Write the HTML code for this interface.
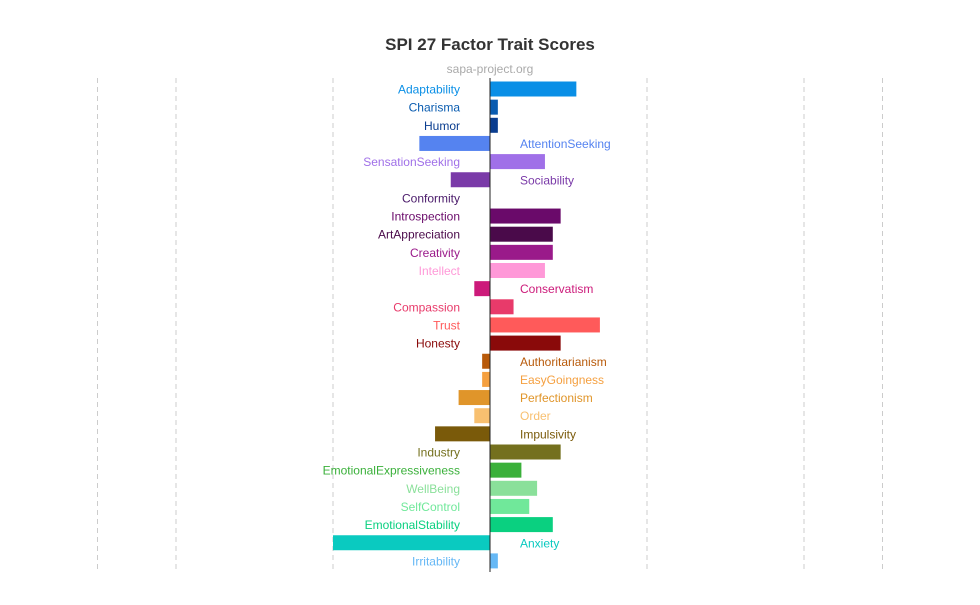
<!DOCTYPE html>
<html><head><meta charset="utf-8"><style>
body{margin:0;background:#fff;width:980px;height:600px;overflow:hidden}
svg text{font-family:"Liberation Sans",sans-serif}
</style></head><body>
<svg id="c" width="980" height="600">
<text x="490" y="50" text-anchor="middle" font-size="17" font-weight="bold" fill="#333">SPI 27 Factor Trait Scores</text>
<text x="490" y="73" text-anchor="middle" font-size="12" fill="#aaa">sapa-project.org</text>
<g id="grid"></g><g id="bars"></g>
</svg>
<script>
const traits=["Adaptability","Charisma","Humor","AttentionSeeking","SensationSeeking","Sociability","Conformity","Introspection","ArtAppreciation","Creativity","Intellect","Conservatism","Compassion","Trust","Honesty","Authoritarianism","EasyGoingness","Perfectionism","Order","Impulsivity","Industry","EmotionalExpressiveness","WellBeing","SelfControl","EmotionalStability","Anxiety","Irritability"];
const scores=[0.55,0.05,0.05,-0.45,0.35,-0.25,0,0.45,0.4,0.4,0.35,-0.1,0.15,0.7,0.45,-0.05,-0.05,-0.2,-0.1,-0.35,0.45,0.2,0.3,0.25,0.4,-1.0,0.05];
const colors=["#0a8fe6","#0a5cb0","#0a3d8f","#5583f0","#a070e8","#7a3aa8","#4a1a6a","#6a0a6a","#4a0a4a","#9a1a8a","#ff99d8","#cc1a7a","#e83a6a","#ff5a5a","#8a0a0a","#b85a0a","#f5a040","#e0952a","#f8c070","#7a5a0a","#74701e","#3ab03a","#8ae09a","#70e89a","#0ad080","#0acac0","#66b8f5"];
const gridTicks=[-2.5,-2,-1,1,2,2.5];
const x=v=>490+v*157;
const y=i=>89+i*18.15;
const NS="http://www.w3.org/2000/svg";
const g=document.getElementById('grid'),b=document.getElementById('bars');
gridTicks.forEach(t=>{const l=document.createElementNS(NS,'line');
l.setAttribute('x1',x(t));l.setAttribute('x2',x(t));l.setAttribute('y1',78);l.setAttribute('y2',572);
l.setAttribute('stroke','#ccc');l.setAttribute('stroke-dasharray','5,4');


g.appendChild(l);});
traits.forEach((n,i)=>{const v=scores[i];const r=document.createElementNS(NS,'rect');
r.setAttribute('x',Math.min(x(0),x(v)));r.setAttribute('width',Math.abs(x(v)-x(0)));
r.setAttribute('y',y(i)-7.5);r.setAttribute('height',15);r.setAttribute('fill',colors[i]);


b.appendChild(r);
const t=document.createElementNS(NS,'text');const neg=v<0;
t.setAttribute('x',neg?520:460);t.setAttribute('y',y(i)+4.5);t.setAttribute('text-anchor',neg?'start':'end');
t.setAttribute('font-size','12');t.setAttribute('fill',colors[i]);t.textContent=n;


b.appendChild(t);});
const a=document.createElementNS(NS,'line');a.setAttribute('x1',490);a.setAttribute('x2',490);a.setAttribute('y1',78);a.setAttribute('y2',572);a.setAttribute('stroke','#222');


b.appendChild(a);
</script>
</body></html>
